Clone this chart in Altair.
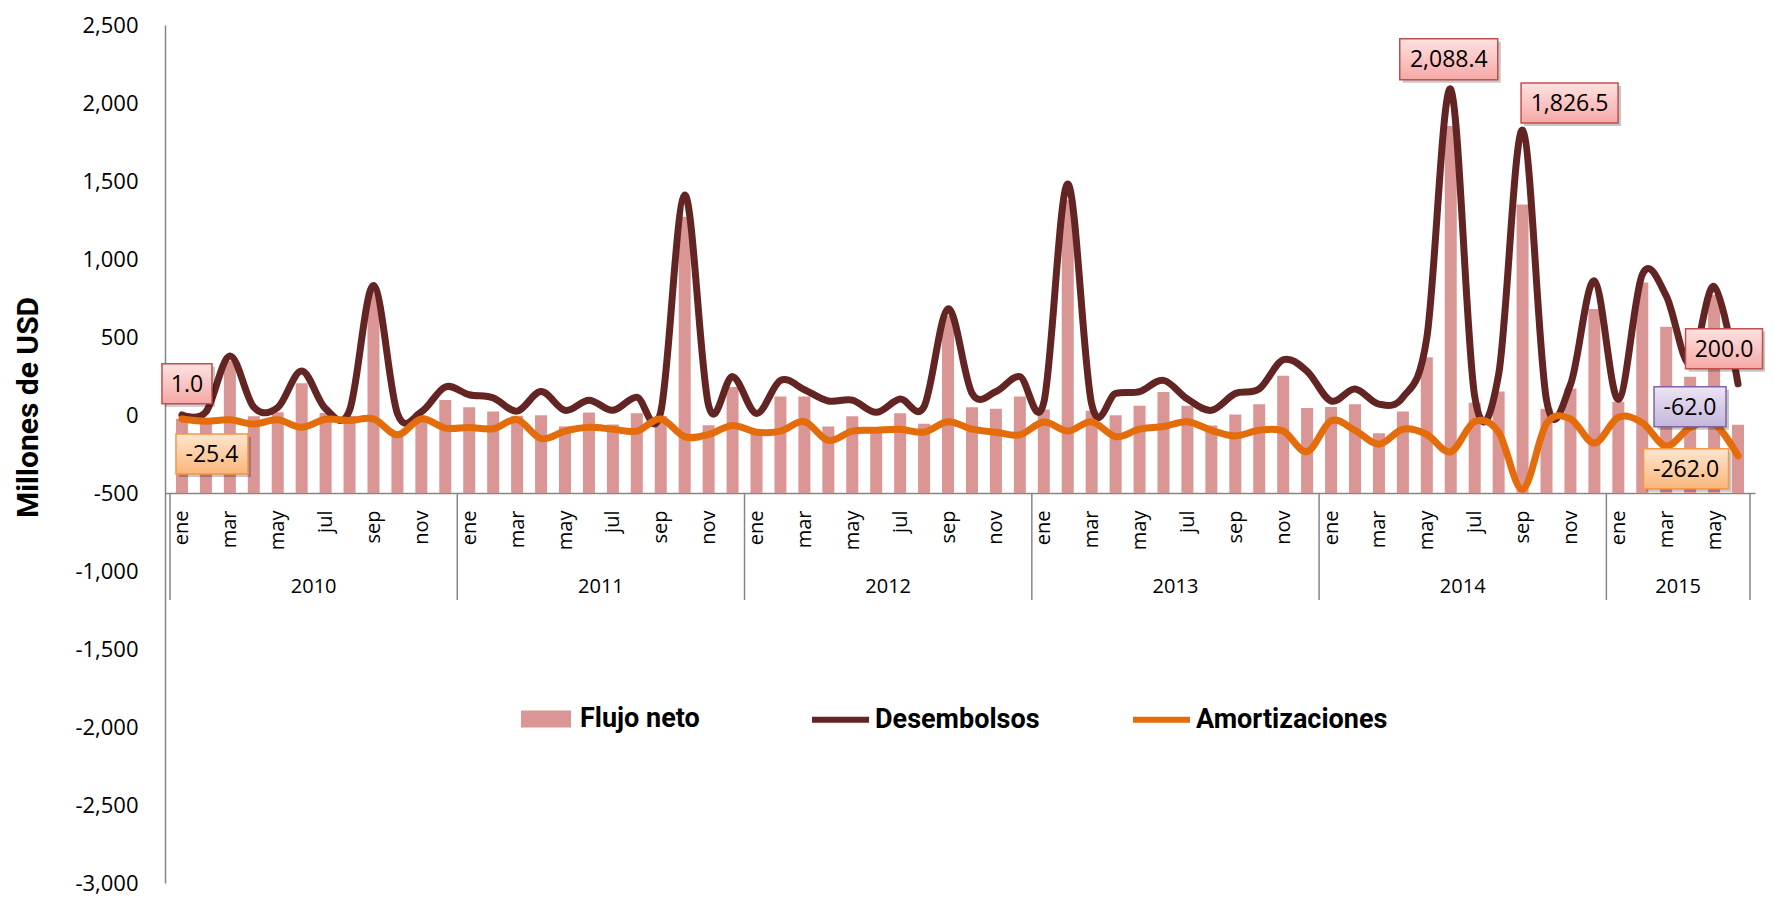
import altair as alt
import pandas as pd

MESES = ["ene", "feb", "mar", "abr", "may", "jun", "jul", "ago", "sep", "oct", "nov", "dic"]
ANIOS = [2010, 2011, 2012, 2013, 2014, 2015]

desembolsos = [
    1.0, 20, 378, 50, 48, 282, 40, 30, 830, 10, 20, 180,
    130, 110, 25, 150, 30, 95, 30, 114, 20, 1410, 60, 246,
    10, 222, 162, 90, 95, 17, 102, 54, 680, 140, 150, 246,
    80, 1480, 70, 138, 150, 222, 102, 30, 138, 167, 354, 280,
    90, 167, 70, 114, 495, 2088.4, 120, 260, 1826.5, 95, 195, 860,
    100, 900, 764, 325, 824, 200.0,
]
amortizaciones = [
    -25.4, -40, -31, -58, -31, -79, -27, -36, -25, -127, -25, -84,
    -80, -88, -30, -151, -103, -79, -91, -103, -26, -139, -125, -67,
    -110, -103, -43, -163, -103, -98, -91, -110, -43, -91, -110, -127,
    -45, -103, -43, -139, -91, -74, -43, -98, -134, -98, -103, -235,
    -38, -98, -187, -91, -125, -236, -42, -110, -476, -55, -25, -180,
    -15, -50, -199, -80, -55, -262.0,
]
flujo_neto = [
    -24.4, -20, 347, -8, 17, 203, 13, -6, 805, -117, -5, 96,
    50, 22, -5, -1, -73, 16, -61, 11, -6, 1271, -65, 179,
    -100, 119, 119, -73, -8, -81, 11, -56, 637, 49, 40, 119,
    35, 1377, 27, -1, 59, 148, 59, -68, 4, 69, 251, 45,
    52, 69, -117, 23, 370, 1852, 78, 150, 1350, 40, 170, 680,
    85, 850, 565, 245, 769, -62.0,
]

N = len(desembolsos)
W, H = 1590, 858
PAD_TOP = 17
TOP = 8 + PAD_TOP
Y_MIN, Y_MAX = -3000, 2500
CROSS = -500
PX = H / (Y_MAX - Y_MIN)


def val_at(page_y):
    # data value that sits at a given page row (used for axis-like decorations)
    return Y_MAX - (page_y - TOP) / PX


SEP_BOTTOM = val_at(600)
YEAR_Y = val_at(587)

pos = [i + 0.5 for i in range(N)]
df = pd.DataFrame({
    "pos": pos,
    "flujo": flujo_neto,
    "serie_bar": ["Flujo neto"] * N,
})
lines = pd.DataFrame({
    "pos": pos * 2,
    "valor": desembolsos + amortizaciones,
    "serie": ["Desembolsos"] * N + ["Amortizaciones"] * N,
})
starts = [12 * k for k in range(len(ANIOS))]
limits = pd.DataFrame({"pos": starts + [N]})
years = pd.DataFrame({
    "anio": [str(a) for a in ANIOS],
    "pos": [(s + min(s + 12, N)) / 2 for s in starts],
})

GREY = "#868686"
x_scale = alt.Scale(domain=[0, N], nice=False, zero=False)
y_scale = alt.Scale(domain=[Y_MIN, Y_MAX], nice=False, zero=False)

mes_js = "[" + ",".join("'%s'" % m for m in MESES) + "]"
x_axis = alt.Axis(
    values=[i + 0.5 for i in range(0, N, 2)],
    labelExpr=mes_js + "[floor(datum.value) % 12]",
    offset=-H * (CROSS - Y_MIN) / (Y_MAX - Y_MIN),
    title=None, grid=False, ticks=False, tickSize=0,
    domainColor=GREY, domainWidth=1.5,
    labelAngle=270, labelAlign="right", labelBaseline="middle",
    labelPadding=17, labelFont="Open Sans", labelFontSize=20, labelColor="#000",
    labelOverlap=False,
)
y_axis = alt.Axis(
    values=list(range(Y_MIN, Y_MAX + 1, 500)),
    labelExpr="(datum.value < 0 ? '-' : '') + format(abs(datum.value), ',')",
    title="Millones de USD", titleFont="Roboto", titleFontSize=30,
    titleFontWeight="bold", titleColor="#000", titleAngle=270,
    titleX=-137, titleY=(407 - TOP), titleAlign="center", titleBaseline="middle",
    grid=False, ticks=False, tickSize=0, domainColor=GREY, domainWidth=1.5,
    labelFont="Open Sans", labelFontSize=22, labelColor="#000", labelPadding=27,
    labelOverlap=False,
)

X = lambda f: alt.X(f, scale=x_scale, axis=x_axis)
Y = lambda f: alt.Y(f, scale=y_scale, axis=y_axis)

LEG_FONT = "Roboto"
legend_y = (717 - TOP) - 23

bars = alt.Chart(df).mark_bar(width=12).encode(
    x=X("pos:Q"),
    y=Y("flujo:Q"),
    y2=alt.datum(CROSS),
    fill=alt.Fill("serie_bar:N", scale=alt.Scale(domain=["Flujo neto"], range=["#d99694"]),
                  legend=alt.Legend(orient="none", legendX=356, legendY=legend_y,
                                    direction="horizontal", title=None,
                                    symbolType="M-1,-0.34L1,-0.34L1,0.34L-1,0.34Z",
                                    symbolSize=2500, symbolStrokeWidth=0, symbolOpacity=1,
                                    labelFont=LEG_FONT, labelFontSize=27, labelFontWeight="bold",
                                    labelColor="#000", labelOffset=9, labelLimit=400, padding=0)),
)

stroke_enc = alt.Stroke(
    "serie:N",
    scale=alt.Scale(domain=["Desembolsos", "Amortizaciones"], range=["#632523", "#e46c0a"]),
    legend=alt.Legend(orient="none", legendX=644, legendY=legend_y - 6, direction="horizontal",
                      title=None, symbolType="stroke", symbolSize=3249, symbolStrokeWidth=6,
                      labelFont=LEG_FONT, labelFontSize=27, labelFontWeight="bold",
                      labelColor="#000", labelOffset=3, labelLimit=400, columnPadding=81,
                      padding=0),
)


def line_layer(name):
    return alt.Chart(lines[lines["serie"] == name]).mark_line(
        interpolate="cardinal", strokeWidth=7, strokeCap="round", strokeJoin="round"
    ).encode(
        x=X("pos:Q"),
        y=Y("valor:Q"),
        stroke=stroke_enc,
    )


rules = alt.Chart(limits).mark_rule(color=GREY, strokeWidth=1.5).encode(
    x=X("pos:Q"),
    y=alt.datum(CROSS),
    y2=alt.datum(SEP_BOTTOM),
)

year_text = alt.Chart(years).mark_text(font="Open Sans", fontSize=20, color="#000",
                                       baseline="middle").encode(
    x=X("pos:Q"),
    y=alt.datum(YEAR_Y),
    text="anio:N",
)


def grad(c1, c2):
    return alt.LinearGradient(gradient="linear", x1=0, x2=0, y1=0, y2=1,
                              stops=[alt.GradientStop(color=c1, offset=0),
                                     alt.GradientStop(color=c2, offset=1)])


PINK = (grad("#fde2e1", "#f6a8a6"), "#c0504d")
ORANGE = (grad("#fee6cf", "#f9b67a"), "#f79646")
PURPLE = (grad("#ebe5f3", "#c4b6dc"), "#8064a2")

# (index, value, style, dx, dy, box width, box height)
etiquetas = [
    (0, desembolsos[0], PINK, 5, -31, 50, 40),
    (0, amortizaciones[0], ORANGE, 30, 35, 72, 40),
    (53, desembolsos[53], PINK, -2, -30, 98, 41),
    (56, desembolsos[56], PINK, 47, -27, 97, 40),
    (65, desembolsos[65], PINK, -14, -35, 77, 40),
    (65, flujo_neto[65], PURPLE, -48, -18, 72, 40),
    (65, amortizaciones[65], ORANGE, -52, 13, 85, 40),
]


def box_path(dx, dy, w, h, u=50.0):
    x0, x1 = (dx - w / 2) / u, (dx + w / 2) / u
    y0, y1 = (dy - h / 2) / u, (dy + h / 2) / u
    return f"M{x0:.3f},{y0:.3f}L{x1:.3f},{y0:.3f}L{x1:.3f},{y1:.3f}L{x0:.3f},{y1:.3f}Z"


label_layers = []
for idx, val, (fill, stroke), dx, dy, w, h in etiquetas:
    d = pd.DataFrame({"pos": [idx + 0.5], "valor": [val], "texto": [f"{val:,.1f}"]})
    base = alt.Chart(d).encode(x=X("pos:Q"), y=Y("valor:Q"))
    shadow = base.mark_point(shape=box_path(dx + 3, dy + 3, w, h), size=10000, filled=True,
                             fill="#000", fillOpacity=0.22, strokeWidth=0, opacity=1)
    box = base.mark_point(shape=box_path(dx, dy, w, h), size=10000, filled=True,
                          fill=fill, stroke=stroke, strokeWidth=1.5, opacity=1, fillOpacity=1)
    txt = base.mark_text(dx=dx, dy=dy + 1, font="Open Sans", fontSize=23, color="#000",
                         align="center", baseline="middle").encode(text="texto:N")
    label_layers += [shadow, box, txt]

chart = alt.layer(
    rules, bars, line_layer("Desembolsos"), line_layer("Amortizaciones"), year_text,
    *label_layers
).properties(
    width=W, height=H,
    padding={"left": 157, "top": PAD_TOP, "right": 10, "bottom": 13},
    autosize=alt.AutoSizeParams(type="none"),
    background="white",
).configure_view(stroke=None)

chart.save("out.html", embed_options={"renderer": "svg", "actions": False})
